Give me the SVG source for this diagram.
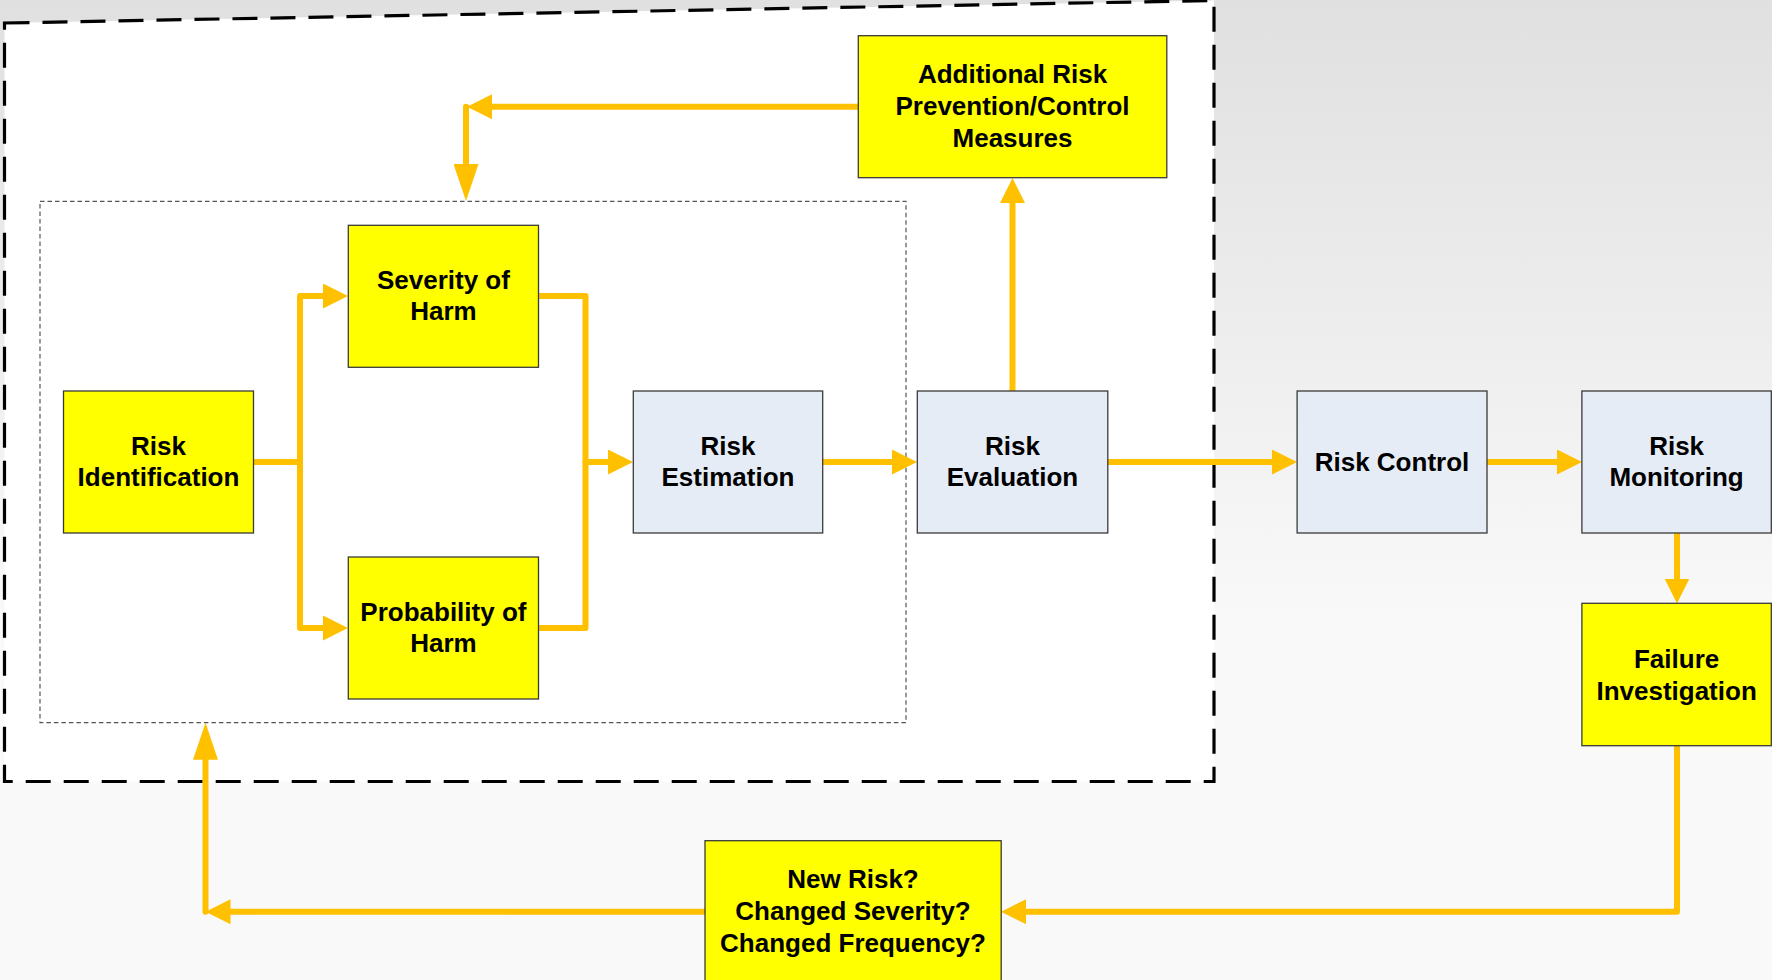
<svg xmlns="http://www.w3.org/2000/svg" width="1772" height="980" viewBox="0 0 1772 980">
<defs>
<linearGradient id="bg" gradientUnits="userSpaceOnUse" x1="0" y1="0" x2="0" y2="620">
<stop offset="0" stop-color="#e0e0e0"/>
<stop offset="1" stop-color="#f9f9f9"/>
</linearGradient>
<marker id="arr" markerUnits="userSpaceOnUse" viewBox="0 0 25 25" markerWidth="25" markerHeight="25" refX="0" refY="12.5" orient="auto">
<path d="M0,0 L25,12.5 L0,25 Z" fill="#FFC000"/>
</marker>
<marker id="arrL" markerUnits="userSpaceOnUse" viewBox="0 0 37 25" markerWidth="37" markerHeight="25" refX="0" refY="12.5" orient="auto">
<path d="M0,0 L37,12.5 L0,25 Z" fill="#FFC000"/>
</marker>
<style>
.box{stroke:#3a3a3a;stroke-width:1.3}
.y{fill:#FFFF00}
.b{fill:#E5ECF6}
.t{font-family:"Liberation Sans",Arial,sans-serif;font-weight:bold;font-size:26px;fill:#000;text-anchor:middle}
.c{fill:none;stroke:#FFC000;stroke-width:6;stroke-linecap:round;stroke-linejoin:round}
</style>
</defs>
<rect x="0" y="0" width="1772" height="980" fill="url(#bg)"/>
<g id="scope">
<polygon points="4.5,23 1214,0.5 1214,781.5 4.5,781.5" fill="#ffffff" stroke="#000" stroke-width="3.2" stroke-dasharray="25 13"/>
<rect x="40" y="201.3" width="866" height="521.4" fill="none" stroke="#555" stroke-width="1.2" stroke-dasharray="4.5 3"/>
</g>
<g id="connectors">
<path class="c" d="M253.5,462 H300 V296 H323" marker-end="url(#arr)"/>
<path class="c" d="M300,462 V628 H323" marker-end="url(#arr)"/>
<path class="c" d="M538.5,296 H585.5 V462 H608" marker-end="url(#arr)"/>
<path class="c" d="M538.5,628 H585.5 V462"/>
<path class="c" d="M823,462 H892" marker-end="url(#arr)"/>
<path class="c" d="M1012.5,391 V203" marker-end="url(#arr)"/>
<path class="c" d="M1108,462 H1272" marker-end="url(#arr)"/>
<path class="c" d="M1487,462 H1557" marker-end="url(#arr)"/>
<path class="c" d="M1677,533 V578.5" marker-end="url(#arr)"/>
<path class="c" d="M1677,746 V911.7 H1026" marker-end="url(#arr)"/>
<path class="c" d="M705,911.7 H230.5" marker-end="url(#arr)"/>
<path class="c" d="M205.5,911.7 V759.7" marker-end="url(#arrL)"/>
<path class="c" d="M858,106.7 H492" marker-end="url(#arr)"/>
<path class="c" d="M466,106.7 V164" marker-end="url(#arrL)"/>
</g>
<g id="risk-identification">
<rect class="box y" x="63.5" y="391" width="190" height="142"/>
<text class="t" x="158.5" y="455">Risk</text>
<text class="t" x="158.5" y="486">Identification</text>
</g>
<g id="severity-of-harm">
<rect class="box y" x="348.3" y="225.3" width="190.2" height="142"/>
<text class="t" x="443.4" y="289">Severity of</text>
<text class="t" x="443.4" y="320">Harm</text>
</g>
<g id="probability-of-harm">
<rect class="box y" x="348.3" y="557" width="190.2" height="142"/>
<text class="t" x="443.4" y="621">Probability of</text>
<text class="t" x="443.4" y="652">Harm</text>
</g>
<g id="risk-estimation">
<rect class="box b" x="633.3" y="391" width="189.4" height="142"/>
<text class="t" x="728" y="455">Risk</text>
<text class="t" x="728" y="486">Estimation</text>
</g>
<g id="risk-evaluation">
<rect class="box b" x="917.3" y="391" width="190.5" height="142"/>
<text class="t" x="1012.5" y="455">Risk</text>
<text class="t" x="1012.5" y="486">Evaluation</text>
</g>
<g id="additional-measures">
<rect class="box y" x="858.3" y="35.7" width="308.5" height="142"/>
<text class="t" x="1012.5" y="82.7">Additional Risk</text>
<text class="t" x="1012.5" y="114.5">Prevention/Control</text>
<text class="t" x="1012.5" y="146.5">Measures</text>
</g>
<g id="risk-control">
<rect class="box b" x="1297.1" y="391" width="189.9" height="142"/>
<text class="t" x="1392" y="471">Risk Control</text>
</g>
<g id="risk-monitoring">
<rect class="box b" x="1581.9" y="391" width="189.4" height="142"/>
<text class="t" x="1676.6" y="455">Risk</text>
<text class="t" x="1676.6" y="486">Monitoring</text>
</g>
<g id="failure-investigation">
<rect class="box y" x="1581.9" y="603.3" width="189.4" height="142.4"/>
<text class="t" x="1676.6" y="668">Failure</text>
<text class="t" x="1676.6" y="700">Investigation</text>
</g>
<g id="new-risk">
<rect class="box y" x="705" y="840.7" width="296.2" height="150"/>
<text class="t" x="853" y="888.3">New Risk?</text>
<text class="t" x="853" y="920">Changed Severity?</text>
<text class="t" x="853" y="951.7">Changed Frequency?</text>
</g>
</svg>
